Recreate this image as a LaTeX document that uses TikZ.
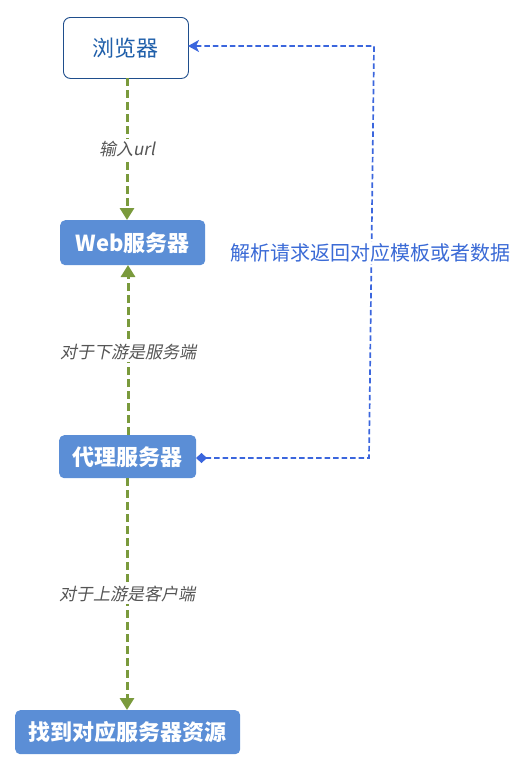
\documentclass[tikz,border=0pt]{standalone}
\usepackage{fontspec}
\setmainfont{Noto Sans CJK SC}
\newfontfamily\cjkit[FakeSlant=0.2]{Noto Sans CJK SC}
\usetikzlibrary{arrows.meta}
\definecolor{boxblue}{HTML}{5B8ED6}
\definecolor{darkblue}{HTML}{1F4E8C}
\definecolor{txtblue}{HTML}{1F5FAA}
\definecolor{lgreen}{HTML}{7A9A3C}
\definecolor{lblue}{HTML}{3B66DD}
\definecolor{lbltxt}{HTML}{3A6AD6}
\definecolor{graytxt}{HTML}{555555}
\tikzset{
  solidbox/.style={draw=none, fill=boxblue, rounded corners=5pt, text=white, font=\bfseries\fontsize{22}{26}\selectfont, inner sep=0pt, anchor=north west},
  browserbox/.style={draw=darkblue, line width=0.9pt, fill=white, rounded corners=7pt, text=txtblue, font=\fontsize{22}{26}\selectfont, inner sep=0pt, anchor=north west},
  greenline/.style={draw=lgreen, line width=3pt, dash pattern=on 8pt off 4pt, -{Triangle[width=14pt,length=12pt]}},
  blueline/.style={draw=lblue, line width=1.7pt, dash pattern=on 5.5pt off 3pt},
  edgelbl/.style={fill=white, text=graytxt, font=\cjkit\fontsize{17}{20}\selectfont, inner sep=2pt},
}
\begin{document}
\begin{tikzpicture}[x=1pt,y=-1pt]
\useasboundingbox (0,0) rectangle (528,771);
\node[browserbox, minimum width=125pt, minimum height=61pt] (b) at (63,17) {浏览器};
\node[solidbox, minimum width=145pt, minimum height=45pt] (w) at (60,220) {Web服务器};
\node[solidbox, minimum width=137pt, minimum height=43pt] (p) at (59,435) {代理服务器};
\node[solidbox, minimum width=225pt, minimum height=44pt] (f) at (15,710) {找到对应服务器资源};
\coordinate (bt) at (127,78);
\coordinate (wt) at (127,220);
\coordinate (wb) at (128,265);
\coordinate (pt) at (128,435);
\coordinate (pb) at (127,478);
\coordinate (ft) at (127,710);
\draw[greenline] (bt) -- node[edgelbl, pos=0.5] (l1) {输入url} (wt);
\draw[greenline] (pt) -- node[edgelbl, pos=0.49] (l2) {对于下游是服务端} (wb);
\draw[greenline] (pb) -- node[edgelbl, pos=0.5] (l3) {对于上游是客户端} (ft);
\coordinate (c1) at (369,458);
\coordinate (c2) at (374,46);
\coordinate (ps) at (196,458);
\coordinate (be) at (188,46);
\draw[blueline, {Diamond[width=10pt,length=11pt,fill=lblue]}-{Stealth[width=12pt,length=11pt,inset=3pt]}]
  (ps) -- (c1) -- (c2) -- (be);
\node[fill=white, text=lbltxt, font=\fontsize{20}{24}\selectfont, inner sep=2pt] (lbl) at (370,253) {解析请求返回对应模板或者数据};
\end{tikzpicture}
\end{document}
